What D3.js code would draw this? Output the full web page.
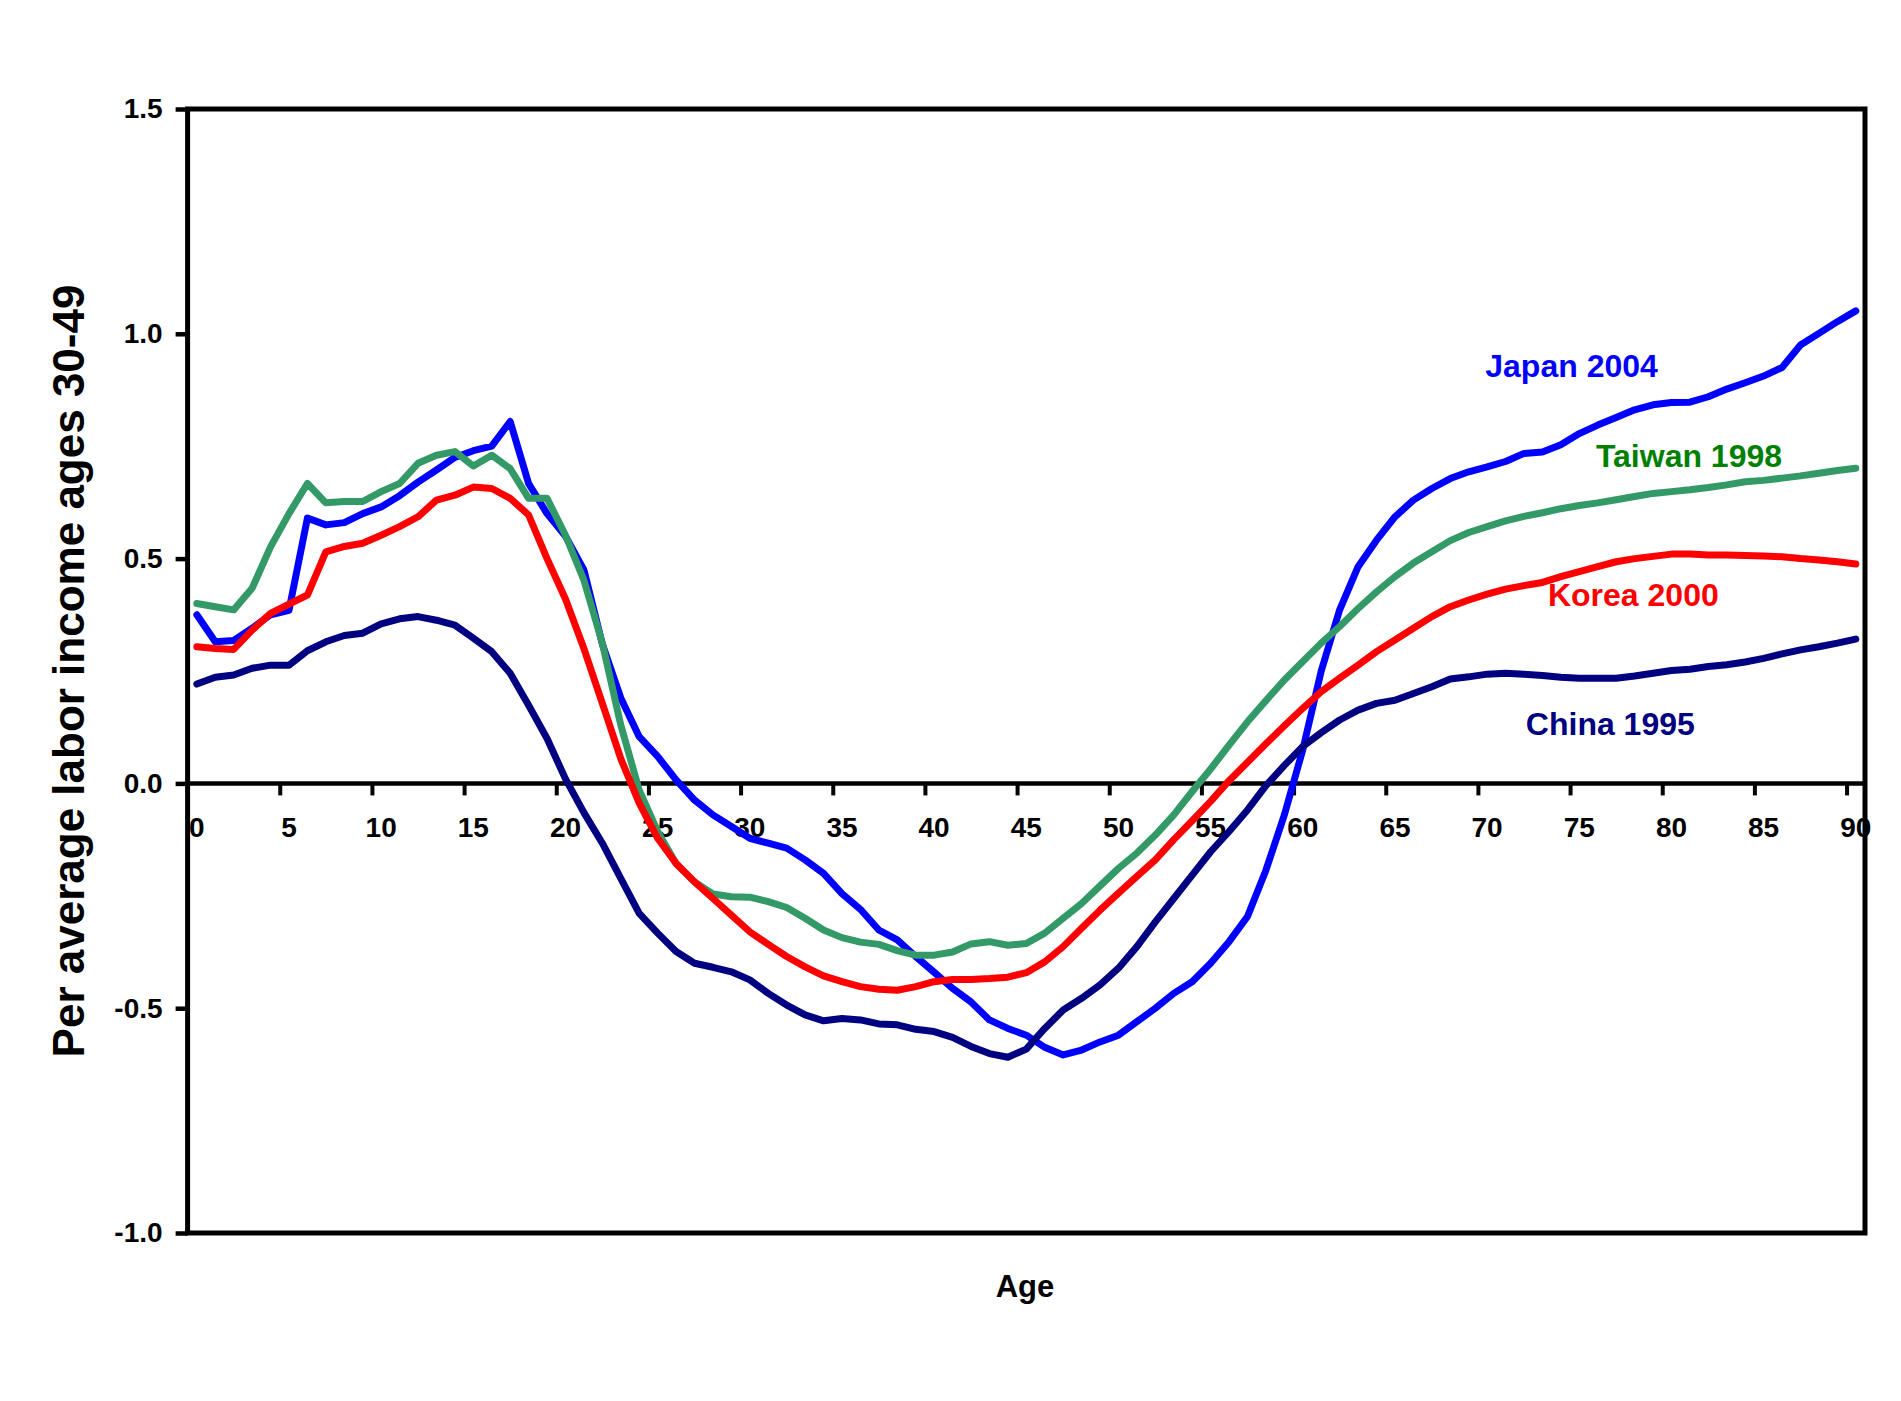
<!DOCTYPE html>
<html>
<head>
<meta charset="utf-8">
<script src="https://cdn.jsdelivr.net/npm/d3@7"></script>
<style>
  body { margin: 0; background: #fff; }
  svg { display: block; }
  text { font-family: Arial, "Liberation Sans", sans-serif; font-weight: bold; }
</style>
</head>
<body>
<div id="chart"></div>
<script>
// Ages 0..90 are categories on the x axis
const ages = d3.range(0, 91)
const xTickValues = [0, 5, 10, 15, 20, 25, 30, 35, 40, 45, 50, 55, 60, 65, 70, 75, 80, 85, 90]
const yTickValues = [-1.0, -0.5, 0.0, 0.5, 1.0, 1.5]

const seriesNames = ['Japan 2004', 'Taiwan 1998', 'Korea 2000', 'China 1995']

const japan = [
    0.375, 0.315, 0.318, 0.345, 0.375, 0.385, 0.59, 0.575, 0.58, 0.60,
    0.615, 0.64, 0.67, 0.697, 0.725, 0.74, 0.75, 0.805, 0.667, 0.60,
    0.55, 0.475, 0.31, 0.19, 0.104, 0.06, 0.008, -0.037, -0.07, -0.096,
    -0.122, -0.133, -0.144, -0.17, -0.20, -0.245, -0.28, -0.326, -0.348, -0.385,
    -0.42, -0.456, -0.486, -0.526, -0.545, -0.56, -0.587, -0.604, -0.593, -0.575,
    -0.56, -0.53, -0.50, -0.467, -0.441, -0.40, -0.352, -0.296, -0.193, -0.07,
    0.075, 0.25, 0.386, 0.482, 0.541, 0.593, 0.63, 0.656, 0.678, 0.693,
    0.704, 0.716, 0.734, 0.737, 0.753, 0.778, 0.797, 0.814, 0.831, 0.842,
    0.847, 0.848, 0.86, 0.877, 0.891, 0.906, 0.925, 0.975, 1.001, 1.027,
    1.051
]

const taiwan = [
    0.40, 0.393, 0.386, 0.434, 0.526, 0.60, 0.667, 0.624, 0.627, 0.627,
    0.649, 0.667, 0.712, 0.73, 0.738, 0.706, 0.73, 0.70, 0.634, 0.634,
    0.552, 0.452, 0.312, 0.13, -0.015, -0.107, -0.178, -0.219, -0.246, -0.252,
    -0.253, -0.263, -0.276, -0.30, -0.326, -0.343, -0.353, -0.358, -0.372, -0.382,
    -0.382, -0.375, -0.357, -0.352, -0.36, -0.356, -0.333, -0.30, -0.267, -0.228,
    -0.189, -0.155, -0.115, -0.07, -0.018, 0.032, 0.085, 0.137, 0.184, 0.23,
    0.271, 0.312, 0.349, 0.389, 0.426, 0.46, 0.49, 0.515, 0.54, 0.558,
    0.571, 0.584, 0.594, 0.602, 0.611, 0.618, 0.624, 0.631, 0.638, 0.645,
    0.649, 0.653, 0.658, 0.664, 0.671, 0.674, 0.679, 0.684, 0.69, 0.696,
    0.701
]

const korea = [
    0.304, 0.30, 0.298, 0.341, 0.378, 0.399, 0.419, 0.515, 0.527, 0.534,
    0.552, 0.571, 0.593, 0.63, 0.641, 0.659, 0.656, 0.634, 0.597, 0.50,
    0.41, 0.30, 0.178, 0.055, -0.044, -0.122, -0.178, -0.219, -0.256, -0.293,
    -0.33, -0.358, -0.385, -0.408, -0.428, -0.441, -0.452, -0.458, -0.46, -0.452,
    -0.441, -0.436, -0.436, -0.434, -0.431, -0.421, -0.397, -0.363, -0.322, -0.282,
    -0.244, -0.207, -0.17, -0.125, -0.083, -0.04, 0.006, 0.047, 0.088, 0.128,
    0.167, 0.204, 0.234, 0.263, 0.293, 0.319, 0.345, 0.371, 0.393, 0.408,
    0.421, 0.432, 0.44, 0.447, 0.46, 0.471, 0.482, 0.493, 0.50, 0.505,
    0.51, 0.51, 0.508, 0.508, 0.507, 0.506, 0.504, 0.50, 0.497, 0.493,
    0.488
]

const china = [
    0.221, 0.236, 0.241, 0.256, 0.263, 0.263, 0.295, 0.315, 0.329, 0.334,
    0.355, 0.366, 0.371, 0.363, 0.352, 0.323, 0.293, 0.245, 0.174, 0.10,
    0.01, -0.065, -0.133, -0.211, -0.289, -0.333, -0.374, -0.40, -0.409, -0.419,
    -0.437, -0.467, -0.493, -0.515, -0.528, -0.523, -0.526, -0.535, -0.537, -0.547,
    -0.552, -0.565, -0.585, -0.601, -0.609, -0.591, -0.545, -0.504, -0.478, -0.448,
    -0.411, -0.363, -0.308, -0.256, -0.204, -0.152, -0.107, -0.059, -0.005, 0.04,
    0.082, 0.113, 0.141, 0.163, 0.178, 0.185, 0.20, 0.215, 0.232, 0.237,
    0.243, 0.245, 0.243, 0.24, 0.236, 0.234, 0.234, 0.234, 0.239, 0.245,
    0.251, 0.254, 0.26, 0.264, 0.27, 0.278, 0.288, 0.297, 0.304, 0.312,
    0.321
]

const WIDTH = 1901
const HEIGHT = 1401
const PLOT = { left: 187.6, right: 1865, top: 109, bottom: 1233 }

// line colour, label colour and label anchor (in data units) for each series
const STYLES = [
    { line: '#0000ff', text: '#0000ff', at: [70.4, 0.904] },
    { line: '#339966', text: '#008000', at: [76.4, 0.704] },
    { line: '#ff0000', text: '#ff0000', at: [73.8, 0.395] },
    { line: '#000080', text: '#000080', at: [72.6, 0.108] }
]

const svg = d3.select('#chart')
    .append('svg')
    .attr('width', WIDTH)
    .attr('height', HEIGHT)

svg.append('rect')
    .attr('width', WIDTH)
    .attr('height', HEIGHT)
    .attr('fill', '#fff')

// category axis: ticks sit on the category edges, points in the middle
const xEdge = d3.scaleLinear()
    .domain([0, ages.length])
    .range([PLOT.left, PLOT.right])
const xMid = age => xEdge(age + 0.5)

const y = d3.scaleLinear()
    .domain([-1, 1.5])
    .range([PLOT.bottom, PLOT.top])

// y axis ticks and labels
const yAxis = svg.append('g')
    .attr('transform', `translate(${PLOT.left},0)`)
    .call(d3.axisLeft(y)
        .tickValues(yTickValues)
        .tickSize(12)
        .tickPadding(13)
        .tickFormat(d => d.toFixed(1)))
yAxis.select('.domain').remove()
yAxis.selectAll('line').attr('stroke', '#000').attr('stroke-width', 4.5)
yAxis.selectAll('text')
    .attr('font-size', 28)
    .attr('font-family', 'Arial, "Liberation Sans", sans-serif')
    .attr('fill', '#000')

// x axis crossing at zero
const xAxis = svg.append('g')
    .attr('transform', `translate(0,${y(0)})`)
    .call(d3.axisBottom(xEdge)
        .tickValues(xTickValues.filter(d => d > 0))
        .tickSize(12)
        .tickFormat(''))
xAxis.select('.domain').remove()
xAxis.selectAll('line').attr('stroke', '#000').attr('stroke-width', 4)

svg.append('line')
    .attr('x1', PLOT.left)
    .attr('x2', PLOT.right)
    .attr('y1', y(0))
    .attr('y2', y(0))
    .attr('stroke', '#000')
    .attr('stroke-width', 4.5)

svg.append('g')
    .selectAll('text')
    .data(xTickValues)
    .enter()
    .append('text')
    .attr('x', d => xMid(d))
    .attr('y', y(0) + 54)
    .attr('text-anchor', 'middle')
    .attr('font-size', 28)
    .text(d => d)

// plot frame, drawn over the end labels like the original
svg.append('rect')
    .attr('x', PLOT.left)
    .attr('y', PLOT.top)
    .attr('width', PLOT.right - PLOT.left)
    .attr('height', PLOT.bottom - PLOT.top)
    .attr('fill', 'none')
    .attr('stroke', '#000')
    .attr('stroke-width', 5)

// series lines
const line = d3.line()
    .x((d, i) => xMid(ages[i]))
    .y(d => y(d))

const series = [japan, taiwan, korea, china]

svg.append('g')
    .selectAll('path')
    .data(series)
    .enter()
    .append('path')
    .attr('d', d => line(d))
    .attr('fill', 'none')
    .attr('stroke', (d, i) => STYLES[i].line)
    .attr('stroke-width', 7)
    .attr('stroke-linejoin', 'round')
    .attr('stroke-linecap', 'round')

// series labels next to the right-hand ends
svg.append('g')
    .selectAll('text')
    .data(seriesNames)
    .enter()
    .append('text')
    .attr('x', (d, i) => xEdge(STYLES[i].at[0]))
    .attr('y', (d, i) => y(STYLES[i].at[1]))
    .attr('font-size', 32)
    .attr('fill', (d, i) => STYLES[i].text)
    .text(d => d)

// axis titles
svg.append('text')
    .attr('x', 1025)
    .attr('y', 1297)
    .attr('text-anchor', 'middle')
    .attr('font-size', 31)
    .text('Age')

svg.append('text')
    .attr('transform', 'translate(84,671) rotate(-90)')
    .attr('text-anchor', 'middle')
    .attr('font-size', 44)
    .text('Per average labor income ages 30-49')
</script>
</body>
</html>
